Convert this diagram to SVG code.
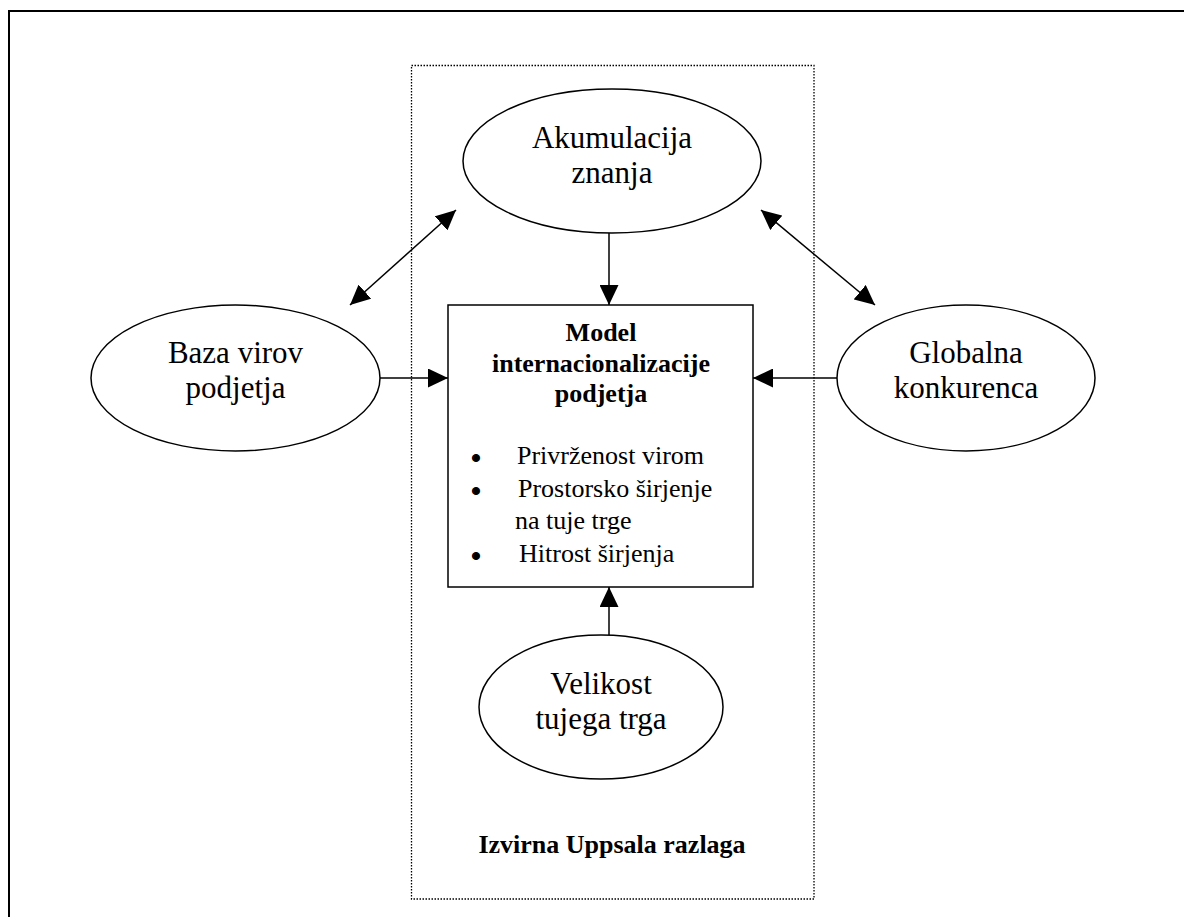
<svg xmlns="http://www.w3.org/2000/svg" width="1184" height="917" viewBox="0 0 1184 917">
  <style>
    .frame { fill: none; stroke: #000; stroke-width: 2; }
    .scope { fill: none; stroke: #000; stroke-width: 1.3; stroke-dasharray: 1.5 1.5; }
    .node { fill: #fff; stroke: #000; stroke-width: 1.5; }
    .edge { fill: none; stroke: #000; stroke-width: 1.5; marker-end: url(#head); }
    .both { marker-start: url(#head); }
    .big { font-family: "Liberation Serif", "Times New Roman", serif; font-size: 31px; text-anchor: middle; fill: #000; }
    .title { font-family: "Liberation Serif", "Times New Roman", serif; font-size: 26px; font-weight: bold; text-anchor: middle; fill: #000; }
    .item { font-family: "Liberation Serif", "Times New Roman", serif; font-size: 26px; fill: #000; }
    .dot { font-family: "Liberation Serif", "Times New Roman", serif; font-size: 30px; font-weight: bold; text-anchor: middle; fill: #000; }
  </style>
  <defs>
    <marker id="head" markerUnits="userSpaceOnUse" markerWidth="20" markerHeight="19" refX="20" refY="9.5" orient="auto-start-reverse">
      <path d="M0,0 L20,9.5 L0,19 z" fill="#000"/>
    </marker>
  </defs>

  <rect width="1184" height="917" fill="#fff"/>
  <!-- outer page frame -->
  <rect class="frame" x="9" y="11" width="1200" height="1000"/>
  <!-- dotted scope of the original model -->
  <rect class="scope" x="411.5" y="65.5" width="402.5" height="833.5"/>

  <g id="connectors">
    <line class="edge" x1="609" y1="233" x2="609" y2="305"/>
    <line class="edge" x1="380" y1="378" x2="448" y2="378"/>
    <line class="edge" x1="837" y1="378" x2="753" y2="378"/>
    <line class="edge" x1="609" y1="635" x2="609" y2="587"/>
    <line class="edge both" x1="350" y1="305" x2="456" y2="210"/>
    <line class="edge both" x1="875" y1="305" x2="761" y2="210"/>
  </g>

  <g id="akumulacija">
    <ellipse class="node" cx="612" cy="161" rx="149" ry="72"/>
    <text class="big" x="612" y="148">Akumulacija</text>
    <text class="big" x="612" y="183">znanja</text>
  </g>

  <g id="baza">
    <ellipse class="node" cx="235.5" cy="378" rx="144.5" ry="73"/>
    <text class="big" x="235.5" y="363">Baza virov</text>
    <text class="big" x="235.5" y="398">podjetja</text>
  </g>

  <g id="globalna">
    <ellipse class="node" cx="966" cy="378" rx="129" ry="73"/>
    <text class="big" x="966" y="363">Globalna</text>
    <text class="big" x="966" y="398">konkurenca</text>
  </g>

  <g id="velikost">
    <ellipse class="node" cx="601" cy="707" rx="122" ry="72"/>
    <text class="big" x="601" y="694">Velikost</text>
    <text class="big" x="601" y="729">tujega trga</text>
  </g>

  <g id="model">
    <rect class="node" x="448" y="305" width="305" height="282"/>
    <text class="title" x="601" y="341">Model</text>
    <text class="title" x="601" y="372">internacionalizacije</text>
    <text class="title" x="601" y="402">podjetja</text>
    <text class="dot" x="476" y="468">•</text>
    <text class="item" x="517" y="464">Privrženost virom</text>
    <text class="dot" x="476" y="501">•</text>
    <text class="item" x="518" y="497">Prostorsko širjenje</text>
    <text class="item" x="515" y="529">na tuje trge</text>
    <text class="dot" x="476" y="566">•</text>
    <text class="item" x="519" y="562">Hitrost širjenja</text>
  </g>

  <text class="title" x="612" y="853">Izvirna Uppsala razlaga</text>
</svg>
